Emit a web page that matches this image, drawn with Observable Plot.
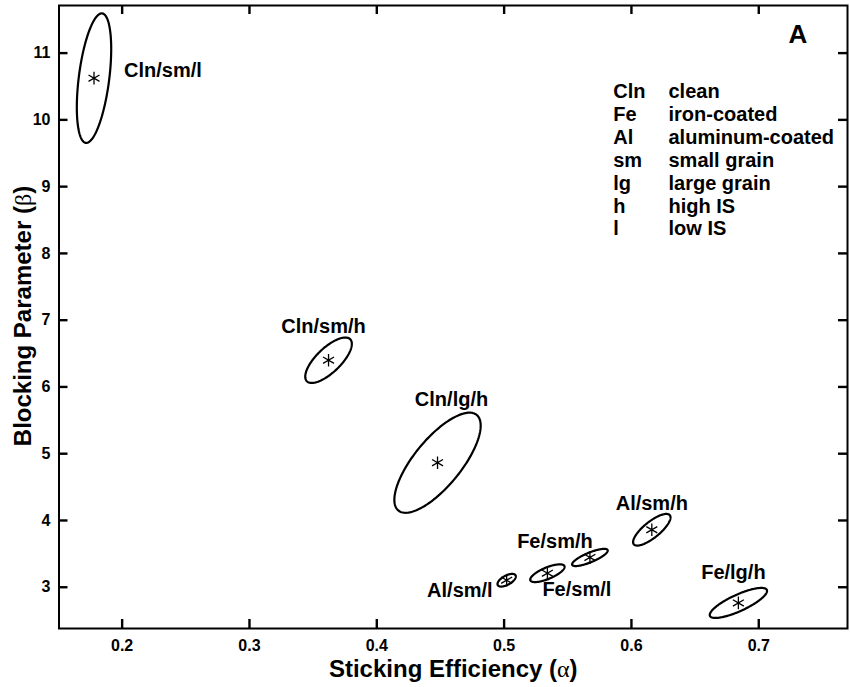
<!DOCTYPE html>
<html>
<head>
<meta charset="utf-8">
<script src="https://cdn.jsdelivr.net/npm/d3@7"></script>
<script src="https://cdn.jsdelivr.net/npm/@observablehq/plot@0.6"></script>
<style>
  body { margin: 0; background: #fff; }
</style>
</head>
<body>
<div id="chart"></div>
<script>
// ---- data ----
const labels    = ["Cln/sm/l", "Cln/sm/h", "Cln/lg/h", "Al/sm/l", "Fe/sm/l", "Fe/sm/h", "Al/sm/h", "Fe/lg/h"];
const alpha     = [0.1779, 0.3621, 0.4477, 0.5020, 0.5340, 0.5674, 0.6160, 0.6840];   // sticking efficiency
const beta      = [10.625, 6.40, 4.865, 3.105, 3.21, 3.446, 3.861, 2.765];            // blocking parameter
const alphaHalf = [0.0135, 0.0183, 0.0339, 0.0072, 0.0135, 0.0140, 0.0147, 0.0225];   // half x-extent of confidence ellipse
const betaHalf  = [0.97, 0.34, 0.75, 0.095, 0.133, 0.129, 0.237, 0.225];              // half y-extent of confidence ellipse
const corr      = [0.45, 0.72, 0.74, 0.60, 0.72, 0.80, 0.78, 0.80];                   // correlation of alpha/beta
const xTicks = [0.2, 0.3, 0.4, 0.5, 0.6, 0.7];
const yTicks = [3, 4, 5, 6, 7, 8, 9, 10, 11];
const legendAbbr = ["Cln", "Fe", "Al", "sm", "lg", "h", "l"];
const legendDesc = ["clean", "iron-coated", "aluminum-coated", "small grain", "large grain", "high IS", "low IS"];
const panelLetter = "A";
const xTitle = "Sticking Efficiency (α)";
const yTitle = "Blocking Parameter (β)";

// ---- layout (pixel offsets of the labels from each fit point) ----
const labelLayout = {
  "Cln/sm/l": {dx: 30,  dy: -8,  anchor: "start"},
  "Cln/sm/h": {dx: -5,  dy: -34, anchor: "middle"},
  "Cln/lg/h": {dx: 14,  dy: -63, anchor: "middle"},
  "Al/sm/l":  {dx: -14, dy: 10,  anchor: "end"},
  "Fe/sm/l":  {dx: -5,  dy: 16,  anchor: "start"},
  "Fe/sm/h":  {dx: -35, dy: -16, anchor: "middle"},
  "Al/sm/h":  {dx: 0,   dy: -26, anchor: "middle"},
  "Fe/lg/h":  {dx: -5,  dy: -30, anchor: "middle"}
};

const fits = labels.map((label, i) => ({label, alpha: alpha[i], beta: beta[i], sa: alphaHalf[i], sb: betaHalf[i], rho: corr[i]}));
const N = 160;
const ellipse = fits.flatMap(f => {
  const phi = Math.acos(f.rho);
  return d3.range(N + 1).map(k => {
    const t = 2 * Math.PI * k / N;
    return {label: f.label, alpha: f.alpha + f.sa * Math.cos(t), beta: f.beta + f.sb * Math.cos(t - phi)};
  });
});

const font = "'Liberation Sans', Arial, Helvetica, sans-serif";
const W = 850, H = 687;
const ml = 58.5, mr = 3, mt = 5, mb = 59;
const TK = 9; // inward tick length (px)
const frameW = W - ml - mr, frameH = H - mt - mb;

const labelMarks = fits.map(f => {
  const L = labelLayout[f.label];
  return Plot.text([f], {x: "alpha", y: "beta", text: "label", dx: L.dx, dy: L.dy, textAnchor: L.anchor,
    lineAnchor: "middle", fontSize: 20, fontWeight: "bold", fill: "black"});
});

const plot = Plot.plot({
  width: W,
  height: H,
  marginLeft: ml, marginRight: mr, marginTop: mt, marginBottom: mb,
  style: {fontFamily: font, fontWeight: "bold", fontSize: "16px", background: "white", color: "black"},
  x: {domain: [0.1504, 0.7697]},
  y: {domain: [2.382, 11.713]},
  marks: [
    // inward ticks on all four sides
    Plot.tickX(xTicks, {x: d => d, insetTop: frameH - TK, stroke: "black", strokeWidth: 2.4}),
    Plot.tickX(xTicks, {x: d => d, insetBottom: frameH - TK, stroke: "black", strokeWidth: 2.4}),
    Plot.tickY(yTicks, {y: d => d, insetRight: frameW - TK, stroke: "black", strokeWidth: 2.4}),
    Plot.tickY(yTicks, {y: d => d, insetLeft: frameW - TK, stroke: "black", strokeWidth: 2.4}),
    // tick labels
    Plot.axisX(xTicks, {anchor: "bottom", tickSize: 0, tickPadding: 11, fontSize: 16, fontWeight: "bold", label: null, tickFormat: d => d.toFixed(1)}),
    Plot.axisY(yTicks, {anchor: "left", tickSize: 0, tickPadding: 8.5, fontSize: 16, fontWeight: "bold", label: null, tickFormat: d => String(d)}),
    Plot.frame({stroke: "black", strokeWidth: 2}),
    Plot.line(ellipse, {x: "alpha", y: "beta", z: "label", stroke: "black", strokeWidth: 2.2}),
    Plot.dot(fits, {x: "alpha", y: "beta", symbol: "asterisk", r: 6, stroke: "black", strokeWidth: 1.3}),
    ...labelMarks,
    Plot.text([legendAbbr.join("\n")], {frameAnchor: "top-left", text: d => d, dx: 612.7 - ml, dy: 76.3,
      textAnchor: "start", lineAnchor: "top", lineHeight: 1.145, fontSize: 20, fontWeight: "bold", fill: "black"}),
    Plot.text([legendDesc.join("\n")], {frameAnchor: "top-left", text: d => d, dx: 668 - ml, dy: 76.3,
      textAnchor: "start", lineAnchor: "top", lineHeight: 1.145, fontSize: 20, fontWeight: "bold", fill: "black"}),
    Plot.text([panelLetter], {frameAnchor: "top-right", text: d => d, dx: -49.5, dy: 29,
      textAnchor: "middle", lineAnchor: "middle", fontSize: 26, fontWeight: "bold", fill: "black"}),
    Plot.text([xTitle], {frameAnchor: "bottom", text: d => d, dy: 41,
      textAnchor: "middle", lineAnchor: "middle", fontSize: 24, fontWeight: "bold", fill: "black"}),
    Plot.text([yTitle], {frameAnchor: "left", text: d => d, dx: -35.5, dy: -1, rotate: -90,
      textAnchor: "middle", lineAnchor: "middle", fontSize: 24, fontWeight: "bold", fill: "black"})
  ]
});

// Greek letters in a lighter symbol-like face, as in the original
plot.querySelectorAll("text").forEach(t => {
  if (t.childElementCount) return;
  const m = (t.textContent || "").match(/^(.*\()([αβ])(\))$/);
  if (!m) return;
  t.textContent = "";
  [[m[1], false], [m[2], true], [m[3], false]].forEach(([s, greek]) => {
    const ts = document.createElementNS("http://www.w3.org/2000/svg", "tspan");
    ts.textContent = s;
    if (greek) {
      ts.setAttribute("font-weight", "normal");
      ts.setAttribute("font-family", "'Liberation Serif', 'DejaVu Serif', serif");
    }
    t.appendChild(ts);
  });
});

document.getElementById("chart").appendChild(plot);
</script>
</body>
</html>
